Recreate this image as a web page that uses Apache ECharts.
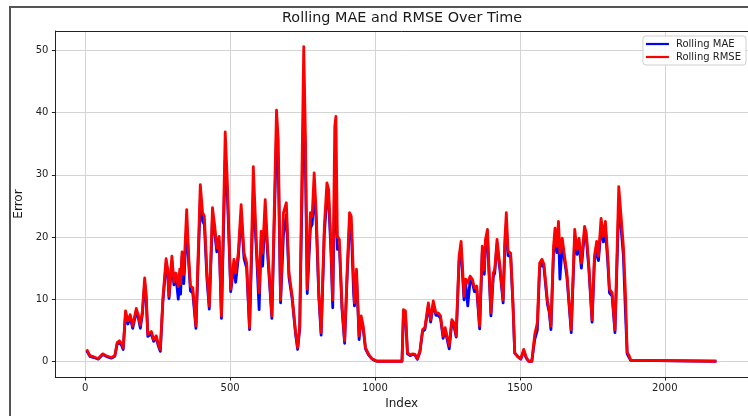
<!DOCTYPE html>
<html><head><meta charset="utf-8">
<script src="https://cdn.jsdelivr.net/npm/echarts@6/dist/echarts.min.js"></script>
<style>html,body{margin:0;padding:0;background:#fff}#c{width:748px;height:416px}</style>
</head><body><div id="c"></div>
<script>
const titleText = "Rolling MAE and RMSE Over Time";
const xName = "Index";
const yName = "Error";
const seriesNames = ["Rolling MAE", "Rolling RMSE"];

const index = [
  5,10,16,30,45,60,74,90,96,102,
  110,118,126,131,139,147,155,164,176,184,
  190,197,205,210,216,228,236,245,252,259,
  268,279,284,289,299,306,313,321,326,329,
  334,340,350,357,363,371,382,397,405,411,
  420,428,439,447,454,462,470,483,491,502,
  513,519,528,538,548,557,567,580,591,600,
  607,612,621,629,644,660,666,674,684,694,
  703,714,726,733,740,754,760,766,777,783,
  790,797,806,814,825,834,840,848,854,861,
  865,870,877,886,895,904,912,918,926,929,
  936,941,945,952,959,967,978,990,1000,1007,
  1093,1098,1105,1112,1121,1130,1138,1146,1155,1164,
  1172,1184,1192,1201,1210,1218,1226,1235,1242,1256,
  1265,1272,1280,1290,1297,1303,1307,1313,1320,1328,
  1336,1343,1351,1361,1370,1377,1381,1388,1393,1400,
  1408,1413,1421,1431,1442,1448,1453,1459,1468,1476,
  1482,1493,1503,1513,1522,1530,1541,1551,1560,1568,
  1576,1583,1595,1601,1607,1616,1621,1627,1633,1638,
  1646,1654,1662,1677,1689,1697,1704,1712,1723,1729,
  1738,1749,1757,1765,1771,1780,1788,1795,1803,1809,
  1818,1828,1841,1849,1857,1864,1870,1876,1882,1888,
  2178
];
const rmse = [
  1.9,2.0,0.9,0.7,0.4,1.2,0.85,0.6,0.45,0.9,
  3.0,3.3,2.8,2.2,8.1,6.5,7.5,5.7,8.5,7.3,
  5.8,8.0,13.4,11.0,4.3,4.8,3.5,4.1,2.8,1.9,
  10.2,16.5,15.0,10.5,16.9,12.8,14.2,12.0,14.8,12.5,
  17.6,14.0,24.4,16.9,12.1,11.8,5.7,28.4,23.9,23.3,
  14.2,8.9,24.7,21.7,18.2,20.1,7.3,36.9,28.1,11.6,
  16.4,14.2,17.4,25.2,17.4,15.8,5.4,31.3,18.5,11.0,
  20.9,17.4,26.0,18.5,7.3,40.4,35.6,9.9,23.9,25.5,
  14.2,10.5,4.6,2.2,5.7,50.6,35.6,11.6,23.9,23.3,
  30.3,23.9,11.0,4.6,21.7,28.7,27.6,18.5,9.9,37.8,
  39.4,20.1,19.6,8.9,3.3,14.8,23.9,23.3,13.2,9.4,
  14.8,8.9,4.1,7.3,5.7,2.2,1.1,0.4,0.15,0,
  0,8.3,8.1,1.4,1.0,1.2,1.1,0.4,1.7,5.1,
  5.4,9.4,6.7,9.7,7.8,7.8,7.3,4.1,5.4,2.5,
  6.7,6.2,4.1,16.9,19.3,14.2,10.5,13.2,12.6,13.7,
  13.2,11.8,12.1,5.7,18.5,14.8,19.6,21.2,15.3,7.8,
  14.2,14.8,19.6,15.3,9.9,19.6,23.9,17.7,17.4,9.4,
  1.4,0.75,0.4,1.9,0.6,0,0,4.3,6.2,15.8,
  16.4,15.6,9.7,8.3,5.7,18.5,21.4,18.5,22.5,17.4,
  19.8,16.9,14.2,5.1,21.2,18.0,19.8,15.8,21.7,20.6,
  15.3,6.7,16.9,19.3,16.9,23.0,20.1,22.5,16.9,11.6,
  11.0,5.1,28.1,23.3,18.5,11.0,1.4,1.0,0.2,0,
  0
];
const mae = [
  1.7,1.8,0.8,0.6,0.35,1.1,0.75,0.5,0.4,0.8,
  2.7,3.0,2.5,1.9,7.6,6.0,7.0,5.3,8.0,6.8,
  5.3,7.5,12.5,10.3,4.0,4.4,3.2,3.8,2.5,1.6,
  9.6,15.8,14.5,10.1,16.2,12.3,13.6,10.0,13.8,10.8,
  16.8,12.5,22.0,15.8,11.3,11.0,5.3,26.0,22.5,22.0,
  13.2,8.4,23.0,20.5,17.6,19.3,6.9,32.4,26.0,11.2,
  15.5,12.7,16.5,23.5,16.5,15.0,5.1,27.0,17.5,8.3,
  19.5,15.3,24.0,17.5,6.9,36.5,32.0,9.4,20.4,23.5,
  13.5,10.0,4.3,1.9,5.2,42.5,31.0,10.9,21.4,22.0,
  27.5,22.5,10.3,4.2,20.5,26.5,25.8,17.5,8.6,30.2,
  30.2,18.0,18.5,8.4,2.9,14.0,22.0,21.5,11.0,8.9,
  13.8,8.3,3.5,6.9,5.3,2.0,1.0,0.35,0.1,0,
  0,7.5,7.3,1.2,0.9,1.1,1.0,0.3,1.5,4.8,
  5.1,8.9,6.3,9.2,7.4,7.4,6.9,3.7,5.0,2.0,
  6.3,5.8,3.9,16.0,18.0,13.0,9.9,12.5,8.9,13.0,
  12.6,11.2,11.5,5.2,17.5,14.0,18.5,20.0,14.5,7.3,
  13.6,14.2,18.8,14.7,9.4,18.5,22.0,17.0,16.8,9.0,
  1.3,0.7,0.35,1.7,0.5,0,0,3.5,5.0,15.0,
  15.8,15.0,9.2,7.9,5.1,17.5,20.0,17.5,21.0,13.2,
  18.8,16.2,13.6,4.6,20.0,17.2,18.8,15.0,20.8,19.8,
  14.7,6.3,16.0,18.0,16.2,21.5,19.2,21.2,16.0,11.0,
  10.5,4.6,25.0,21.5,17.0,8.0,1.2,0.9,0.15,0,
  0
];

const maeData = index.map((x, i) => [x, mae[i]]);
const rmseData = index.map((x, i) => [x, rmse[i]]);

const FONT = "DejaVu Sans";
const chart = echarts.init(document.getElementById('c'), null, {renderer: 'canvas'});
chart.setOption({
  animation: false,
  backgroundColor: '#fff',
  title: {
    text: titleText, left: 282, top: 11, padding: 0,
    textStyle: {fontFamily: FONT, fontSize: 14.4, fontWeight: 'normal', color: '#1a1a1a'}
  },
  graphic: [{
    type: 'rect', silent: true, z: 100,
    shape: {x: 10, y: 7, width: 800, height: 500},
    style: {fill: 'none', stroke: '#555', lineWidth: 2}
  }],
  legend: {
    orient: 'vertical', right: 2, top: 36,
    data: seriesNames,
    icon: 'rect', itemWidth: 23, itemHeight: 2.2, itemGap: 3,
    padding: [3, 5, 3, 3],
    backgroundColor: 'rgba(255,255,255,0.85)',
    borderColor: '#d0d0d0', borderWidth: 1, borderRadius: 3,
    textStyle: {fontFamily: FONT, fontSize: 10, color: '#222', padding: [0, 0, 0, 2]}
  },
  grid: {left: 55.4, top: 31, width: 697.5, height: 346, show: false},
  xAxis: [{
    type: 'value', min: -103, max: 2287, splitNumber: 5,
    name: xName, nameLocation: 'middle', nameGap: 21,
    nameTextStyle: {fontFamily: FONT, fontSize: 12, color: '#1a1a1a'},
    axisLine: {show: true, onZero: false, lineStyle: {color: '#222', width: 1}},
    axisTick: {show: true, length: 3.5, lineStyle: {color: '#222'}},
    axisLabel: {showMinLabel: false, showMaxLabel: false, margin: 6,
      formatter: v => String(v),
      fontFamily: FONT, fontSize: 10, color: '#222'},
    splitLine: {show: true, lineStyle: {color: '#d4d4d4', width: 1}}
  }, {
    type: 'value', position: 'top', min: -103, max: 2287,
    axisLine: {show: true, onZero: false, lineStyle: {color: '#222', width: 1}},
    axisTick: {show: false}, axisLabel: {show: false}, splitLine: {show: false}
  }],
  yAxis: {
    type: 'value', min: -2.53, max: 53.13, splitNumber: 5,
    name: yName, nameLocation: 'middle', nameGap: 24, nameRotate: 90,
    nameTextStyle: {fontFamily: FONT, fontSize: 12, color: '#1a1a1a'},
    axisLine: {show: true, onZero: false, lineStyle: {color: '#222', width: 1}},
    axisTick: {show: true, length: 3.5, lineStyle: {color: '#222'}},
    axisLabel: {showMinLabel: false, showMaxLabel: false, margin: 7,
      formatter: v => String(v),
      fontFamily: FONT, fontSize: 10, color: '#222'},
    splitLine: {show: true, lineStyle: {color: '#d4d4d4', width: 1}}
  },
  series: [{
    name: seriesNames[0], type: 'line', data: maeData, xAxisIndex: 0,
    showSymbol: false, symbol: 'none', color: '#0000ff',
    lineStyle: {width: 2.8, color: '#0000ff', join: 'round'}, z: 3
  }, {
    name: seriesNames[1], type: 'line', data: rmseData, xAxisIndex: 0,
    showSymbol: false, symbol: 'none', color: '#ff0000',
    lineStyle: {width: 2.8, color: '#ff0000', join: 'round'}, z: 4
  }]
});
</script>
</body></html>
